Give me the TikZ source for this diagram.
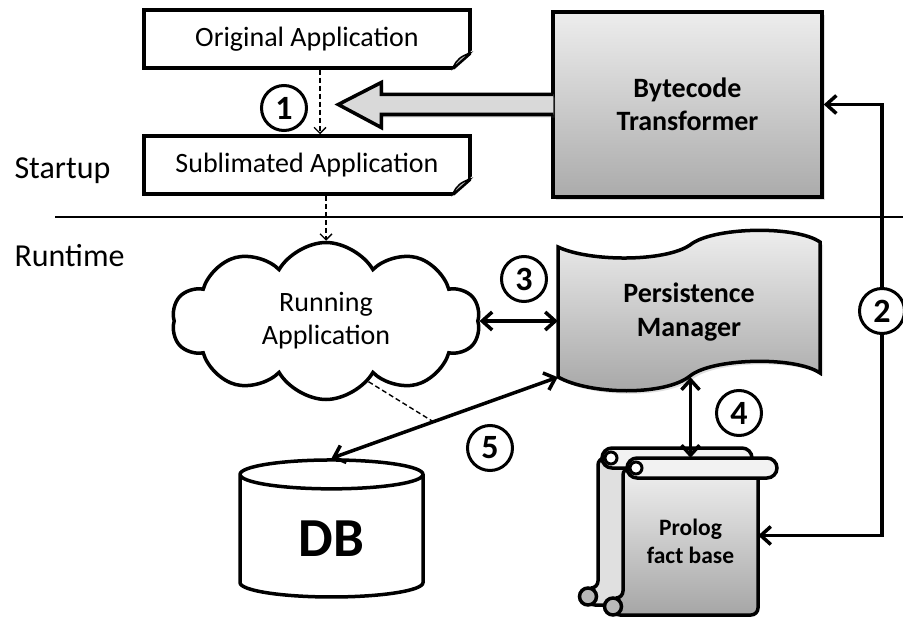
\documentclass[tikz,border=0pt]{standalone}
\usepackage{fontspec}
\setmainfont{Carlito}
\usetikzlibrary{positioning,arrows.meta,shapes.symbols,shapes.geometric,shadows,calc}

% dog-ear at the lower right corner of a document node
\newcommand{\docfold}[1]{%
  \fill[white] ($(#1.south east)+(1,1)$) -- ($(#1.south east)+(1,-20)$) -- ($(#1.south east)+(-21,1)$) -- cycle;
  \draw[line width=3.5pt, line cap=round] ($(#1.south east)+(-1.75,-16.5)$) -- ($(#1.south east)+(-18.5,-1.75)$);
  \draw[line width=1.5pt, fill=gray!55] ($(#1.south east)+(-1.75,-16.5)$) .. controls ($(#1.south east)+(-10,-14)$) and ($(#1.south east)+(-16,-10)$) .. ($(#1.south east)+(-18.5,-1.75)$) -- cycle;
}

\begin{document}
\begin{tikzpicture}[x=1pt, y=-1pt,
        doc/.style={rectangle, draw, line width=3.5pt, fill=white, minimum width=326, minimum height=58, font=\fontsize{28}{33}\selectfont},
        box/.style={rectangle, draw, line width=3.5pt, top color=black!7, bottom color=black!33, minimum width=269, minimum height=185, align=center, font=\bfseries\fontsize{28}{33}\selectfont, drop shadow={opacity=0.25, shadow xshift=3pt, shadow yshift=-3pt}},
        num/.style={circle, draw, line width=3pt, fill=white, minimum size=45, inner sep=0pt, font=\bfseries\fontsize{34}{34}\selectfont},
        side/.style={anchor=base west, font=\fontsize{32}{38}\selectfont},
        arrow/.style={-{Straight Barb[length=10pt,width=18pt]}, line width=3.5pt},
        biarrow/.style={{Straight Barb[length=10pt,width=18pt]}-{Straight Barb[length=10pt,width=18pt]}, line width=3.5pt},
        dasharrow/.style={-{Straight Barb[length=6pt,width=12pt]}, line width=1.4pt, dash pattern=on 5pt off 3pt},
        scrollfill/.style={top color=black!6, bottom color=black!35},
        scroll/.pic={
            \draw[line width=3.5pt, scrollfill, rounded corners=7pt] (0,0) -- (135,0) -- (135,147) -- (-10,147) -- (-10,130) -- (0,130) -- cycle;
            \draw[line width=3.5pt, fill=gray!55] (-10,138.5) circle (8.5);
            \draw[line width=3.5pt, fill=gray!10, rounded corners=10pt] (4,-10) rectangle (154,10);
            \draw[line width=3pt, fill=white] (13,0) circle (6);
        }
    ]
    \useasboundingbox (0,0) rectangle (903,618);

    % startup part
    \node[doc] (orig) at (307,39) {Original Application};
    \node[doc] (sub) at (307,165) {Sublimated Application};
    \docfold{orig}
    \docfold{sub}
    \node[box] (bt) at (687.5,104.5) {Bytecode\\Transformer};

    \draw[dasharrow] ([xshift=13pt]orig.south) -- ([xshift=13pt]sub.north);
    \filldraw[line width=3.5pt, fill=black!15, drop shadow={opacity=0.2, shadow xshift=2pt, shadow yshift=-3pt}]
        ($(bt.west)+(2,-10)$) -- ++(-172,0) -- ++(0,-12) -- ++(-43,22) -- ++(43,23) -- ++(0,-13) -- ++(172,0);
    \node[num] (n1) at (284,108) {1};

    \node[side] (startup) at (11,178) {Startup};
    \node[side] (runtime) at (11,266) {Runtime};
    \draw[line width=1.3pt] (55,217) -- (903,217);

    % runtime part
    \node[cloud, draw, line width=3.5pt, cloud puffs=10, cloud puff arc=120, cloud ignores aspect, minimum width=308, minimum height=157, fill=white, align=center, font=\fontsize{28}{33}\selectfont] (run) at (326,321) {Running\\Application};
    \draw[dasharrow] (sub.south -| run.north) -- (run.north);

    \path[draw, line width=3.5pt, top color=black!6, bottom color=black!35, drop shadow={opacity=0.25, shadow xshift=3pt, shadow yshift=-3pt}]
        (558,247) .. controls (590,262) and (665,262) .. (690,245) .. controls (712,227) and (795,225) .. (820,242)
        -- (820,373) .. controls (795,356) and (712,358) .. (690,376) .. controls (665,396) and (590,395) .. (558,377) -- cycle;
    \node[align=center, minimum width=262, minimum height=130, font=\bfseries\fontsize{28}{34}\selectfont] (pm) at (689,312) {Persistence\\Manager};

    \pic[scrollfill/.style={fill=black!12}] at (598,458) {scroll};
    \pic at (623,468) {scroll};
    \node[align=center, minimum width=135, minimum height=147, font=\bfseries\fontsize{23.5}{28}\selectfont] (pf) at (690.5,541.5) {Prolog\\fact base};

    \node[cylinder, shape border rotate=90, draw, line width=3.5pt, aspect=0.4, minimum width=183, minimum height=137, fill=white, font=\bfseries\fontsize{55}{55}\selectfont] (db) at (331.5,538.5) {DB};

    \draw[biarrow] (run.east) -- (run.east -| pm.west);
    \draw[biarrow] (pf.north |- pm.south) -- ([yshift=10pt]pf.north);
    \draw[biarrow] (pm.south west) -- coordinate[pos=0.55] (mid5) (db.top);
    \draw[line width=1.4pt, dash pattern=on 5pt off 3pt] (run.-55) -- (mid5);
    \draw[biarrow] ([yshift=6pt]pf.east) -- ++(124,0) |- (bt.east);

    \node[num] (n2) at (882,311) {2};
    \node[num] (n3) at (524,279) {3};
    \node[num] (n4) at (739,413) {4};
    \node[num] (n5) at (490,448) {5};
\end{tikzpicture}
\end{document}
